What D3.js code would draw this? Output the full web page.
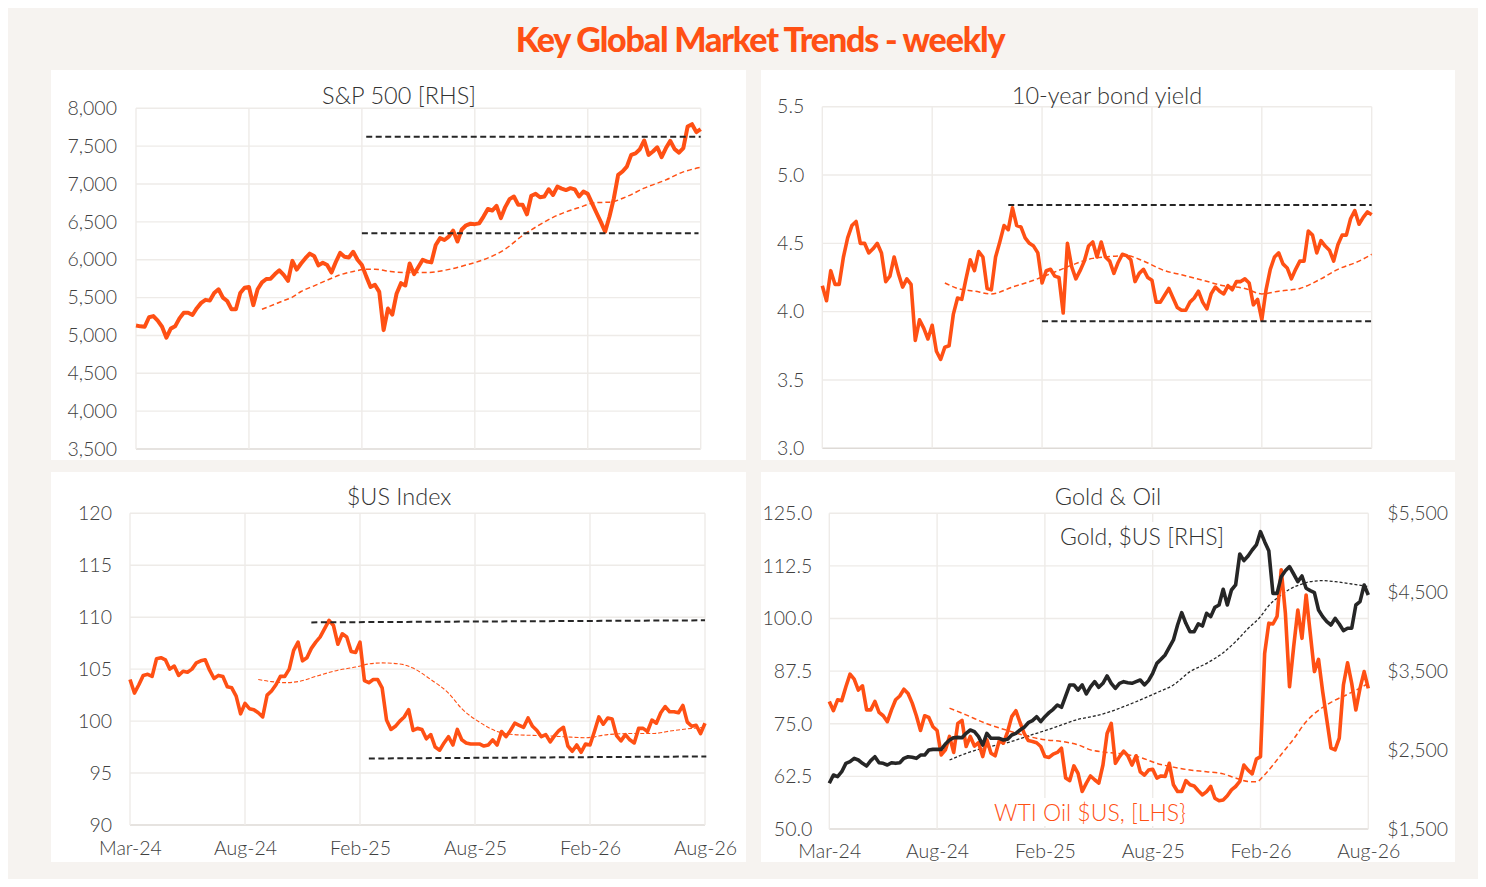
<!DOCTYPE html>
<html>
<head>
<meta charset="utf-8">
<script src="https://cdn.jsdelivr.net/npm/d3@7"></script>
<style>
body { margin: 0; background: #fff; }
svg text { font-family: Lato, "Open Sans", sans-serif; }
</style>
</head>
<body>
<svg id="chart" width="1486" height="887"></svg>
<script>
// weekly points, Mar-24 .. Aug-26 (131 weeks)
const xLabels = ["Mar-24", "Aug-24", "Feb-25", "Aug-25", "Feb-26", "Aug-26"];
const labelWeeks = [0, 26, 52, 78, 104, 130];

const spx = [5130, 5120, 5115, 5240, 5255, 5195, 5115, 4970, 5090, 5120,
  5225, 5300, 5300, 5270, 5360, 5430, 5470, 5460, 5560, 5610,
  5500, 5455, 5345, 5345, 5560, 5630, 5640, 5400, 5610, 5700,
  5745, 5750, 5810, 5860, 5800, 5720, 5985, 5870, 5950, 6020,
  6080, 6050, 5925, 5960, 5930, 5830, 5970, 6090, 6040, 6030,
  6105, 6000, 5930, 5780, 5640, 5670, 5575, 5070, 5355, 5275,
  5555, 5690, 5660, 5950, 5810, 5905, 6000, 5975, 5965, 6195,
  6285, 6260, 6305, 6385, 6240, 6400, 6455, 6475, 6470, 6480,
  6570, 6670, 6650, 6710, 6550, 6695, 6800, 6835, 6725, 6725,
  6600, 6845, 6870, 6825, 6835, 6930, 6855, 6965, 6940, 6920,
  6945, 6930, 6835, 6900, 6870, 6745, 6620, 6500, 6370, 6570,
  6810, 7120, 7165, 7230, 7385, 7405, 7460, 7575, 7385, 7430,
  7485, 7355, 7475, 7570, 7460, 7415, 7475, 7760, 7790, 7685,
  7725];
const spxMaWeek = [29, 31, 34, 36, 38, 41, 44, 47, 50, 53, 55, 58, 60, 63, 67, 71, 76, 80, 85, 89, 92, 96, 102, 106, 109, 113, 117, 122, 126, 130];
const spxMa = [5345, 5390, 5460, 5505, 5580, 5655, 5730, 5800, 5845, 5873, 5875, 5850, 5835, 5830, 5830, 5860, 5930, 6000, 6140, 6320, 6430, 6560, 6690, 6755, 6760, 6835, 6945, 7055, 7160, 7220];
// [start week, end week, start value, end value]
const spxRefs = [[53, 130, 7625, 7625], [52, 129.5, 6350, 6350]];

const bond = [4.19, 4.08, 4.30, 4.20, 4.20, 4.40, 4.54, 4.63, 4.66, 4.50,
  4.50, 4.43, 4.46, 4.50, 4.43, 4.22, 4.26, 4.40, 4.28, 4.18,
  4.24, 4.20, 3.79, 3.94, 3.88, 3.80, 3.90, 3.71, 3.65, 3.74,
  3.75, 3.98, 4.10, 4.09, 4.24, 4.38, 4.30, 4.44, 4.40, 4.17,
  4.16, 4.40, 4.51, 4.63, 4.60, 4.76, 4.63, 4.62, 4.54, 4.50,
  4.48, 4.43, 4.21, 4.30, 4.31, 4.26, 4.25, 3.99, 4.50, 4.33,
  4.24, 4.30, 4.37, 4.48, 4.51, 4.40, 4.51, 4.40, 4.37, 4.28,
  4.36, 4.42, 4.41, 4.38, 4.22, 4.28, 4.31, 4.25, 4.23, 4.07,
  4.07, 4.12, 4.17, 4.10, 4.03, 4.01, 4.01, 4.07, 4.10, 4.15,
  4.07, 4.02, 4.13, 4.18, 4.15, 4.13, 4.19, 4.16, 4.22, 4.22,
  4.24, 4.21, 4.05, 4.09, 3.94, 4.16, 4.31, 4.40, 4.43, 4.35,
  4.32, 4.24, 4.31, 4.37, 4.37, 4.59, 4.56, 4.43, 4.52, 4.48,
  4.45, 4.37, 4.49, 4.56, 4.56, 4.68, 4.74, 4.64, 4.69, 4.73,
  4.71];
const bondMaWeek = [29, 32, 36, 40, 45, 50, 55, 59, 64, 67, 72, 76, 81, 85, 90, 95, 100, 104, 108, 113, 118, 122, 127, 130];
const bondMa = [4.21, 4.17, 4.15, 4.13, 4.18, 4.23, 4.29, 4.34, 4.39, 4.40, 4.41, 4.37, 4.30, 4.27, 4.23, 4.19, 4.17, 4.13, 4.15, 4.17, 4.24, 4.31, 4.37, 4.42];
const bondRefs = [[44, 130, 4.78, 4.78], [52, 130, 3.93, 3.93]];

const usd = [104.0, 102.7, 103.5, 104.4, 104.5, 104.3, 106.0, 106.1, 105.9, 105.0,
  105.3, 104.4, 104.8, 104.7, 105.0, 105.6, 105.8, 105.9, 104.9, 104.1,
  104.4, 104.3, 103.3, 103.2, 102.4, 100.7, 101.7, 101.2, 101.1, 100.8,
  100.4, 102.5, 102.9, 103.5, 104.3, 104.3, 105.0, 106.8, 107.6, 105.8,
  106.1, 107.0, 107.6, 108.1, 108.9, 109.7, 109.2, 107.4, 108.4, 108.1,
  106.7, 106.6, 107.6, 103.9, 103.7, 104.0, 104.0, 103.2, 100.1, 99.2,
  99.5, 100.0, 100.4, 101.1, 99.1, 99.3, 99.2, 98.3, 98.7, 97.5,
  97.2, 97.9, 98.5, 97.7, 99.2, 98.2, 97.9, 97.8, 97.8, 97.8,
  97.6, 97.7, 98.2, 97.7, 99.0, 98.5, 99.1, 99.8, 99.6, 99.4,
  100.3, 99.5, 99.1, 98.5, 98.7, 98.0, 98.6, 99.1, 99.4, 97.6,
  97.1, 97.7, 97.0, 97.8, 97.7, 99.0, 100.4, 99.7, 100.3, 100.2,
  98.6, 98.1, 98.7, 98.2, 97.9, 99.3, 99.3, 99.0, 100.1, 99.8,
  100.8, 101.4, 100.9, 100.9, 100.8, 101.5, 99.9, 99.5, 99.6, 98.8,
  99.8];
const usdMaWeek = [29, 32, 35, 38, 42, 47, 51, 54, 57, 61, 64, 68, 72, 75, 79, 83, 87, 93, 98, 103, 108, 113, 118, 123, 127, 130];
const usdMa = [104.0, 103.8, 103.7, 103.8, 104.3, 104.9, 105.2, 105.5, 105.6, 105.5, 105.1, 104.0, 102.7, 101.2, 99.9, 99.0, 98.7, 98.6, 98.5, 98.4, 98.7, 98.8, 98.8, 99.1, 99.3, 99.4];
const usdRefs = [[41, 130, 109.5, 109.7], [54, 130.3, 96.4, 96.6]];

const oil = [80.3, 78.1, 80.7, 80.5, 83.8, 86.8, 85.6, 83.0, 84.0, 78.3,
  78.3, 80.3, 77.7, 76.9, 75.5, 78.3, 80.7, 81.6, 83.2, 82.2,
  79.9, 76.9, 73.4, 76.9, 76.5, 74.3, 73.4, 67.6, 68.8, 72.0,
  68.2, 75.1, 75.8, 69.6, 72.0, 69.7, 70.5, 67.2, 71.2, 68.0,
  67.4, 71.0, 70.4, 73.1, 76.7, 78.1, 75.3, 72.7, 71.0, 70.8,
  70.5, 69.6, 67.2, 67.0, 67.8, 68.2, 69.2, 62.1, 61.5, 65.0,
  63.2, 58.9, 60.9, 62.6, 61.7, 60.9, 65.2, 72.7, 75.1, 65.6,
  67.2, 68.5, 67.4, 65.2, 67.4, 63.6, 62.8, 64.0, 64.2, 62.1,
  62.6, 62.5, 65.6, 60.5, 58.9, 58.9, 61.5, 60.5, 60.2, 59.1,
  58.1, 58.9, 60.1, 57.3, 56.7, 56.9, 57.9, 59.3, 60.1, 61.3,
  65.2, 64.0, 63.1, 66.6, 67.2, 91.7, 98.9, 98.7, 100.5, 111.6,
  101.3, 83.8, 93.3, 102.0, 95.3, 105.6, 96.5, 87.4, 90.3, 82.6,
  75.9, 69.2, 68.8, 71.6, 84.2, 89.5, 84.6, 78.3, 83.4, 87.4,
  83.4];
const oilMaWeek = [29, 33, 38, 43, 48, 52, 56, 60, 63, 67, 71, 75, 79, 83, 87, 91, 95, 98, 101, 103, 105, 107, 109, 112, 115, 118, 121, 125, 128, 130];
const oilMa = [78.7, 77.1, 75.0, 73.4, 72.0, 71.2, 70.8, 70.0, 68.8, 68.2, 67.8, 67.0, 65.6, 64.7, 64.0, 63.6, 63.1, 62.1, 61.3, 61.2, 62.9, 65.2, 67.7, 71.4, 75.5, 78.2, 80.1, 82.0, 83.5, 84.6];

const gold = [2080, 2184, 2163, 2226, 2332, 2353, 2395, 2374, 2332, 2298,
  2366, 2416, 2340, 2332, 2311, 2340, 2332, 2340, 2395, 2416,
  2408, 2395, 2437, 2437, 2501, 2509, 2509, 2509, 2577, 2628,
  2657, 2661, 2657, 2712, 2754, 2733, 2670, 2564, 2712, 2649,
  2649, 2649, 2628, 2636, 2691, 2712, 2754, 2788, 2847, 2873,
  2923, 2860, 2923, 2974, 3016, 3071, 3042, 3185, 3325, 3325,
  3261, 3325, 3211, 3300, 3367, 3295, 3346, 3439, 3346, 3282,
  3346, 3367, 3354, 3346, 3367, 3388, 3325, 3380, 3473, 3599,
  3650, 3705, 3802, 3895, 4085, 4241, 4106, 4000, 4000, 4098,
  4072, 4233, 4191, 4309, 4338, 4537, 4338, 4528, 4592, 4985,
  4900, 4959, 5035, 5099, 5268, 5141, 5027, 4486, 4486, 4697,
  4773, 4824, 4731, 4634, 4706, 4550, 4520, 4495, 4275, 4191,
  4127, 4085, 4169, 4098, 4013, 4043, 4043, 4338, 4381, 4592,
  4465];
const goldMaWeek = [29, 33, 38, 43, 48, 52, 56, 60, 63, 67, 71, 75, 79, 83, 87, 91, 95, 98, 101, 104, 106, 109, 111, 114, 116, 119, 122, 126, 130];
const goldMa = [2374, 2459, 2535, 2594, 2680, 2746, 2818, 2890, 2920, 2974, 3050, 3135, 3228, 3325, 3494, 3599, 3734, 3874, 4040, 4191, 4330, 4465, 4537, 4604, 4634, 4647, 4634, 4604, 4571];

const ORANGE = "#ff5014";
const INK = "#262626";

const svg = d3.select("#chart");

svg.append("rect")
  .attr("x", 8).attr("y", 8)
  .attr("width", 1470).attr("height", 871)
  .attr("fill", "#f6f3f0");

svg.append("text")
  .attr("x", 760).attr("y", 52)
  .attr("text-anchor", "middle")
  .attr("font-size", 34)
  .attr("font-weight", 900)
  .attr("letter-spacing", -1.2)
  .attr("fill", ORANGE)
  .text("Key Global Market Trends - weekly");

function styleAxisText(sel) {
  sel.select(".domain").remove();
  sel.selectAll("text")
    .attr("font-size", 19.5)
    .attr("font-weight", 300)
    .attr("fill", "#404040")
    .style("font-family", "Lato, 'Open Sans', sans-serif");
}

function drawPanel(o) {
  svg.append("rect")
    .attr("x", o.box[0]).attr("y", o.box[1])
    .attr("width", o.box[2] - o.box[0]).attr("height", o.box[3] - o.box[1])
    .attr("fill", "#fff");

  const x = d3.scaleLinear().domain([0, 130]).range([o.x0, o.x1]);
  const y = d3.scaleLinear().domain([o.yTicks[0], o.yTicks[o.yTicks.length - 1]]).range([o.y1, o.y0]);

  const grid = svg.append("g");
  grid.selectAll("line.h")
    .data(o.yTicks)
    .enter().append("line")
    .attr("x1", o.x0).attr("x2", o.x1)
    .attr("y1", d => y(d)).attr("y2", d => y(d))
    .attr("stroke", (d, i) => i === 0 ? "#dedad6" : "#eeebe8")
    .attr("stroke-width", 1.4);
  grid.selectAll("line.v")
    .data(labelWeeks)
    .enter().append("line")
    .attr("x1", d => x(d)).attr("x2", d => x(d))
    .attr("y1", o.y0).attr("y2", o.y1)
    .attr("stroke", "#eeebe8")
    .attr("stroke-width", 1.4);

  const ay = svg.append("g")
    .attr("transform", `translate(${o.x0},0)`)
    .call(d3.axisLeft(y).tickValues(o.yTicks).tickFormat(o.fmt).tickSize(0).tickPadding(o.pad));
  styleAxisText(ay);

  if (o.showX) {
    const ax = svg.append("g")
      .attr("transform", `translate(0,${o.y1})`)
      .call(d3.axisBottom(x).tickValues(labelWeeks).tickFormat((d, i) => xLabels[i]).tickSize(0).tickPadding(o.xPad));
    styleAxisText(ax);
  }

  svg.append("text")
    .attr("x", o.titleX).attr("y", o.titleY)
    .attr("text-anchor", "middle")
    .attr("font-size", 23.5)
    .attr("font-weight", 300)
    .attr("fill", "#333")
    .text(o.title);

  return { x, y, grid };
}

function seriesLine(x, y) {
  return d3.line().x((d, i) => x(i)).y(d => y(d));
}

function maLine(x, y, weeks) {
  return d3.line().x((d, i) => x(weeks[i])).y(d => y(d)).curve(d3.curveMonotoneX);
}

function drawRefs(x, y, refs) {
  svg.append("g").selectAll("line")
    .data(refs)
    .enter().append("line")
    .attr("x1", d => x(d[0])).attr("x2", d => x(d[1]))
    .attr("y1", d => y(d[2])).attr("y2", d => y(d[3]))
    .attr("stroke", INK)
    .attr("stroke-width", 2)
    .attr("stroke-dasharray", "6,3.5");
}

// --- S&P 500
{
  const p = drawPanel({
    box: [51, 70, 746, 460], x0: 136, x1: 700.7, y0: 108.3, y1: 449,
    yTicks: d3.range(3500, 8001, 500), fmt: d3.format(","), pad: 19,
    title: "S&P 500 [RHS]", titleX: 399, titleY: 104
  });
  svg.append("path").datum(spxMa)
    .attr("d", maLine(p.x, p.y, spxMaWeek))
    .attr("fill", "none").attr("stroke", ORANGE).attr("stroke-width", 1.5).attr("stroke-dasharray", "5,3");
  svg.append("path").datum(spx)
    .attr("d", seriesLine(p.x, p.y))
    .attr("fill", "none").attr("stroke", ORANGE).attr("stroke-width", 4).attr("stroke-linejoin", "round");
  drawRefs(p.x, p.y, spxRefs);
}

// --- 10-year bond yield
{
  const p = drawPanel({
    box: [761, 70, 1455, 460], x0: 822.3, x1: 1371.7, y0: 106.7, y1: 448.3,
    yTicks: d3.range(3.0, 5.51, 0.5), fmt: d3.format(".1f"), pad: 18,
    title: "10-year bond yield", titleX: 1107, titleY: 104
  });
  svg.append("path").datum(bondMa)
    .attr("d", maLine(p.x, p.y, bondMaWeek))
    .attr("fill", "none").attr("stroke", ORANGE).attr("stroke-width", 1.5).attr("stroke-dasharray", "5,3");
  svg.append("path").datum(bond)
    .attr("d", seriesLine(p.x, p.y))
    .attr("fill", "none").attr("stroke", ORANGE).attr("stroke-width", 3.6).attr("stroke-linejoin", "round");
  drawRefs(p.x, p.y, bondRefs);
}

// --- $US Index
{
  const p = drawPanel({
    box: [51, 472, 746, 862], x0: 130, x1: 705, y0: 513.3, y1: 825,
    yTicks: d3.range(90, 121, 5), fmt: d3.format("d"), pad: 18,
    showX: true, xPad: 16,
    title: "$US Index", titleX: 399, titleY: 505
  });
  svg.append("path").datum(usdMa)
    .attr("d", maLine(p.x, p.y, usdMaWeek))
    .attr("fill", "none").attr("stroke", ORANGE).attr("stroke-width", 1.1).attr("stroke-dasharray", "4,2");
  svg.append("path").datum(usd)
    .attr("d", seriesLine(p.x, p.y))
    .attr("fill", "none").attr("stroke", ORANGE).attr("stroke-width", 3.6).attr("stroke-linejoin", "round");
  drawRefs(p.x, p.y, usdRefs);
}

// --- Gold & Oil
{
  const p = drawPanel({
    box: [761, 472, 1455, 862], x0: 829.3, x1: 1368.3, y0: 513.3, y1: 829,
    yTicks: d3.range(50, 125.1, 12.5), fmt: d3.format(".1f"), pad: 17,
    showX: true, xPad: 15.5,
    title: "Gold & Oil", titleX: 1108, titleY: 505
  });
  const yGold = d3.scaleLinear().domain([1500, 5500]).range([829, 513.3]);
  const ar = svg.append("g")
    .attr("transform", "translate(1368.3,0)")
    .call(d3.axisRight(yGold).tickValues(d3.range(1500, 5501, 1000)).tickFormat(d3.format("$,")).tickSize(0).tickPadding(19));
  styleAxisText(ar);

  // in-chart labels sit on white boxes
  const labels = [
    { t: "Gold, $US [RHS]", x: 1142, y: 545, c: "#333" },
    { t: "WTI Oil $US, [LHS}", x: 1090, y: 821, c: ORANGE }
  ];
  labels.forEach(l => {
    const t = svg.append("text")
      .attr("x", l.x).attr("y", l.y)
      .attr("text-anchor", "middle")
      .attr("font-size", 23).attr("font-weight", 300)
      .attr("fill", l.c).text(l.t);
    const bb = t.node().getBBox();
    svg.insert("rect", () => t.node())
      .attr("x", bb.x - 3).attr("y", bb.y)
      .attr("width", bb.width + 6).attr("height", bb.height)
      .attr("fill", "#fff");
  });

  svg.append("path").datum(oilMa)
    .attr("d", maLine(p.x, p.y, oilMaWeek))
    .attr("fill", "none").attr("stroke", ORANGE).attr("stroke-width", 1.5).attr("stroke-dasharray", "5,3");
  svg.append("path").datum(goldMa)
    .attr("d", maLine(p.x, yGold, goldMaWeek))
    .attr("fill", "none").attr("stroke", INK).attr("stroke-width", 1.3).attr("stroke-dasharray", "3,2");
  svg.append("path").datum(oil)
    .attr("d", seriesLine(p.x, p.y))
    .attr("fill", "none").attr("stroke", ORANGE).attr("stroke-width", 3.6).attr("stroke-linejoin", "round");
  svg.append("path").datum(gold)
    .attr("d", seriesLine(p.x, yGold))
    .attr("fill", "none").attr("stroke", INK).attr("stroke-width", 3.6).attr("stroke-linejoin", "round");
}
</script>
</body>
</html>
